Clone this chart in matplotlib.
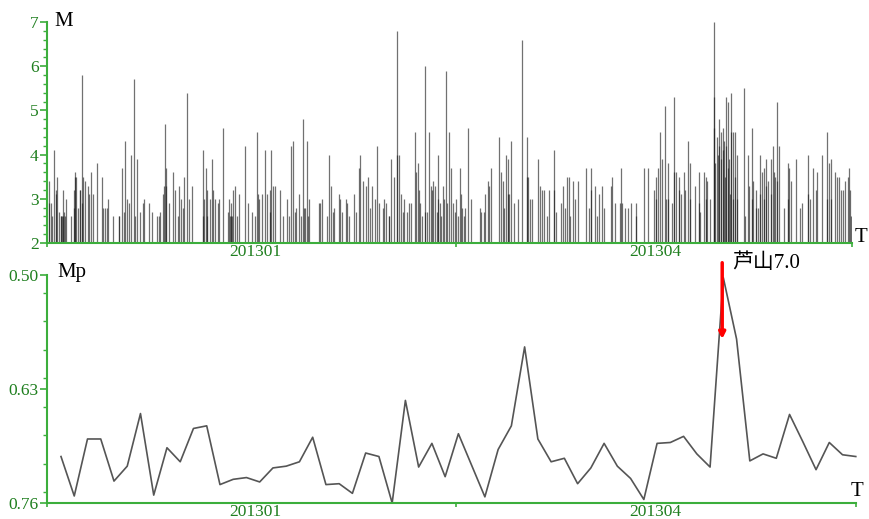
import numpy as np
import matplotlib
matplotlib.use('Agg')
import matplotlib.pyplot as plt
from matplotlib.ticker import MultipleLocator

# Earthquake catalogue (day since mid-Nov 2012, magnitude)
quake_day = [
    0.45, 0.5, 0.8, 1.2, 1.65, 1.95, 2.0, 2.25, 2.6, 3.1, 3.2, 3.4, 3.5, 3.7, 3.9, 4.0, 4.35, 5.3,
    6.0, 6.1, 6.3, 6.4, 6.6, 6.9, 7.4, 7.5, 7.8, 7.85, 8.2, 8.55, 9.2, 9.4, 9.9, 10.3, 11.3, 12.3,
    12.7, 13.05, 13.4, 13.8, 14.8, 16.2, 16.3, 16.9, 17.3, 17.6, 18.1, 18.4, 18.8, 19.6, 19.9, 20.2,
    20.9, 21.5, 21.8, 23.0, 23.6, 24.7, 25.1, 25.5, 26.0, 26.3, 26.6, 26.7, 26.75, 27.5, 28.3, 28.8,
    29.4, 29.7, 30.2, 30.5, 30.8, 31.4, 31.9, 32.6, 35.0, 35.0, 35.3, 35.8, 36.0, 36.1, 36.7, 37.2,
    37.4, 37.8, 38.4, 38.8, 39.7, 40.7, 41.0, 41.1, 41.3, 41.4, 41.6, 41.9, 42.3, 42.8, 43.3, 44.6,
    45.3, 46.1, 46.9, 47.3, 47.4, 47.7, 48.4, 49.1, 49.4, 50.2, 50.25, 50.5, 50.9, 51.4, 52.4,
    53.2, 54.1, 54.5, 54.9, 55.3, 55.7, 56.0, 56.6, 57.1, 57.7, 57.75, 58.1, 58.6, 58.65, 58.97,
    61.1, 61.4, 61.9, 63.0, 63.5, 63.8, 64.3, 64.6, 65.6, 65.9, 66.4, 67.2, 67.6, 68.0, 69.1, 69.5,
    70.1, 70.5, 71.2, 71.7, 72.2, 72.7, 73.2, 73.7, 74.2, 74.6, 75.5, 75.9, 76.3, 76.9, 77.0, 77.4,
    78.0, 78.8, 78.85, 79.1, 79.7, 80.0, 80.4, 80.95, 81.4, 81.9, 82.7, 83.0, 83.4, 83.8, 83.85,
    84.4, 85.0, 85.0, 85.4, 85.9, 86.3, 86.6, 86.9, 87.3, 87.7, 88.0, 88.05, 88.4, 88.7, 89.1, 89.4,
    89.8, 90.1, 90.5, 90.9, 91.3, 91.7, 92.0, 92.4, 93.0, 93.05, 93.4, 93.7, 94.1, 94.7, 95.4, 97.3,
    97.7, 98.2, 98.6, 99.1, 99.5, 99.9, 101.7, 102.1, 102.5, 102.9, 103.2, 103.6, 103.65, 103.9,
    104.3, 104.95, 106.0, 106.8, 107.9, 108.0, 108.3, 108.6, 109.2, 110.4, 110.8, 111.3, 111.9,
    112.4, 112.9, 114.1, 114.15, 114.6, 115.7, 116.1, 116.5, 117.0, 117.4,
    117.7, 118.3, 118.8, 119.4, 121.2, 122.0, 122.4, 122.45, 123.2, 123.7, 124.2, 124.9, 125.4,
    126.9, 127.2, 127.7, 128.9, 129.2, 129.25, 130.1, 130.6, 131.4, 132.5, 132.55, 134.4, 135.3,
    136.5, 137.0, 137.05, 137.4, 137.9, 138.4, 139.1, 139.15, 139.6, 139.8, 140.7, 141.1, 141.15,
    141.6, 142.2, 142.25, 142.7, 143.2, 143.6, 144.2, 144.7, 144.75, 145.8, 146.6, 146.65, 147.0,
    147.7, 148.2, 148.25, 148.5, 149.1,
    150.0, 150.05, 150.1, 150.3, 150.8, 150.85, 151.2, 151.25, 151.6, 151.65, 152.1, 152.15, 152.4,
    152.45, 152.7, 152.75, 153.1, 153.15, 153.5, 153.55, 153.9, 153.95, 154.3, 154.35, 154.7,
    154.75, 155.2, 155.25,
    156.9, 157.0, 157.8, 157.85, 158.5, 158.55, 158.9, 159.4, 159.45, 159.9, 160.4, 160.45, 160.9,
    161.3, 161.35, 161.7, 161.75, 162.1, 162.9, 162.95, 163.4, 163.45, 163.8, 164.2, 164.25, 164.6,
    165.7, 166.6, 166.65, 167.0, 167.4, 168.4, 169.4, 169.9, 171.2, 171.25, 171.6, 172.3, 173.0,
    173.3, 174.4, 175.4, 175.45, 175.9, 176.3, 176.35, 177.2, 177.7, 178.1, 178.6, 179.0, 179.6,
    180.1, 180.5, 180.55, 180.8,
]
quake_mag = [
    3.4, 2.9, 2.9, 2.6, 4.1, 3.2, 3.1, 3.5, 2.7, 2.6, 2.6, 2.6, 2.6, 3.2, 2.7, 2.6, 3.0, 2.6,
    2.8, 3.2, 3.6, 3.5, 3.5, 2.8, 3.2, 3.2, 5.8, 2.9, 3.5, 3.4, 3.3, 3.1, 3.6, 3.1, 3.8, 3.5,
    2.8, 2.8, 2.8, 3.0, 2.6, 2.6, 2.6, 3.7, 2.7, 4.3, 3.0, 2.9, 4.0, 5.7, 2.6, 3.9,
    2.7, 2.9, 3.0, 2.9, 2.7, 2.6, 2.6, 2.7, 3.1, 3.3, 4.7, 3.7, 3.3, 2.9, 3.6, 3.2,
    2.6, 3.3, 3.0, 2.8, 3.5, 5.4, 3.0, 3.3, 4.1, 2.6, 3.0, 3.7, 3.2, 2.6, 3.0, 3.9,
    3.2, 3.0, 2.9, 3.0, 4.6, 2.7, 3.0, 2.6, 2.9, 2.6, 2.6, 3.2, 3.3, 2.6, 3.1, 4.2,
    2.9, 2.7, 2.6, 4.5, 3.1, 3.0, 3.1, 4.1, 3.1, 3.2, 2.7, 4.1, 3.3, 3.3, 3.2,
    2.6, 3.0, 2.6, 4.2, 4.3, 2.7, 2.8, 3.1, 2.6, 4.8, 2.8, 2.8, 4.3, 2.6, 3.0,
    2.9, 2.9, 3.0, 2.6, 4.0, 3.3, 2.7, 2.8, 3.1, 3.0, 2.7, 3.0, 2.9, 2.6, 3.1, 2.7,
    3.7, 4.0, 3.4, 3.3, 3.5, 2.8, 3.3, 3.0, 4.2, 2.9, 2.8, 3.0, 2.9, 2.6, 2.6, 3.9,
    3.5, 6.8, 4.0, 4.0, 3.1, 2.7, 3.0, 2.7, 2.9, 2.9, 4.5, 3.6, 3.8, 3.2, 2.9,
    2.6, 6.0, 2.7, 2.7, 4.5, 3.3, 3.2, 3.4, 3.3, 2.7, 4.0, 3.0, 2.9, 2.6, 3.3, 3.0,
    5.9, 2.9, 4.5, 3.7, 2.9, 2.7, 3.0, 2.6, 3.7, 3.1, 2.8, 2.6, 2.8, 4.6, 3.0, 2.8,
    2.7, 2.7, 3.1, 3.4, 3.3, 3.7, 4.4, 3.6, 3.4, 2.8, 4.0, 3.9, 3.1, 3.1,
    4.3, 2.9, 3.0, 6.6, 4.4, 3.5, 3.5, 3.0, 3.0, 3.9, 3.3, 3.2, 3.2,
    2.6, 3.2, 4.1, 3.2, 2.7, 2.9, 3.3, 2.8, 3.5, 3.5,
    2.6, 3.4, 3.0, 3.4, 3.7, 2.8, 3.7, 3.2, 3.3, 2.6, 3.1, 3.3, 2.8,
    3.3, 3.5, 2.9, 2.9, 3.7, 2.9, 2.8, 2.8, 2.9, 2.9, 2.6, 3.7, 3.7,
    3.2, 3.5, 3.0, 3.7, 4.5, 3.9, 5.1, 3.0, 3.0, 3.8, 2.9, 5.3, 3.6,
    3.6, 3.5, 3.2, 3.1, 3.6, 3.2, 4.3, 3.8, 3.0, 3.3, 3.6, 2.9, 2.7,
    3.6, 3.5, 3.0, 3.4, 3.0,
    7.0, 5.3, 4.6, 3.8, 4.4, 4.0, 4.8, 4.2, 4.5, 3.9, 4.6, 4.1, 4.3,
    3.5, 5.3, 4.2, 5.2, 3.7, 3.9, 3.1, 5.4, 4.5, 4.5, 3.0, 4.5,
    3.5, 4.0, 3.0,
    5.5, 2.6, 4.0, 3.3, 4.6, 3.0, 3.4, 3.2, 2.8, 2.8, 4.0, 3.1, 3.6,
    3.7, 3.0, 3.9, 3.3, 3.4, 3.9, 3.1, 4.2, 3.6, 3.5, 5.2, 3.4, 4.2,
    2.8, 3.8, 3.0, 3.7, 3.4, 3.9, 2.8, 2.9, 4.0, 3.1, 3.0, 3.7, 3.2,
    3.6, 4.0, 4.5, 3.0, 3.8, 3.9, 3.0, 3.6, 3.5, 3.5, 3.2, 3.2, 3.4,
    3.5, 3.7, 3.2, 2.6,
]

# Mp computed every 3 days
mp_value = [
    0.707, 0.752, 0.687, 0.687, 0.735, 0.718, 0.658, 0.751, 0.697, 0.713,
    0.675, 0.672, 0.739, 0.733, 0.731, 0.736, 0.720, 0.718, 0.713, 0.685,
    0.739, 0.738, 0.749, 0.703, 0.707, 0.760, 0.643, 0.719, 0.692, 0.730,
    0.681, 0.717, 0.753, 0.699, 0.672, 0.582, 0.687, 0.713, 0.709, 0.738,
    0.720, 0.692, 0.718, 0.732, 0.756, 0.692, 0.691, 0.684, 0.704, 0.719,
    0.503, 0.573, 0.712, 0.704, 0.709, 0.659, 0.690, 0.722, 0.691, 0.705, 0.707,
]
mp_day = 3.15 + 2.98 * np.arange(len(mp_value))

month_labels = ['201301', '201304']
month_day = [46.8, 136.8]
quake_label = '芦山7.0'
quake_at = 151.9

# Colours / fonts
axis_green = '#3cae3c'
label_green = '#1f7f1f'
serif = ['Liberation Serif', 'Noto Sans CJK SC']
W, H = 869, 519

fig = plt.figure(figsize=(W / 100, H / 100), dpi=100)
ax1 = fig.add_axes([47 / W, 1 - 243 / H, (852 - 47) / W, 221 / H])
ax2 = fig.add_axes([47 / W, 1 - 503 / H, (856 - 47) / W, 228 / H])


def style_axes(ax, xmax):
    for side in ['top', 'right']:
        ax.spines[side].set_visible(False)
    for side in ['left', 'bottom']:
        ax.spines[side].set_color(axis_green)
        ax.spines[side].set_linewidth(1.5)
    ax.set_xlim(0, xmax)
    # small ticks at both ends and the middle, month names without ticks
    ax.set_xticks([0, 92, xmax])
    ax.set_xticklabels([])
    ax.set_xticks(month_day, minor=True)
    ax.set_xticklabels(month_labels, minor=True)
    ax.tick_params(axis='x', which='major', length=3, width=1.2, color=axis_green)
    ax.tick_params(axis='x', which='minor', length=0, pad=1, labelsize=12.5,
                   labelcolor=label_green)
    ax.tick_params(axis='y', which='major', length=5, width=1.2, color=axis_green,
                   labelsize=12.5, labelcolor=label_green, pad=1)
    ax.tick_params(axis='y', which='minor', length=3, width=1.0, color=axis_green)
    for lab in ax.get_xticklabels(minor=True) + ax.get_yticklabels():
        lab.set_family(serif)


# First chart: magnitudes as thin vertical lines (overlaps go darker)
ax1.vlines(quake_day, 2, quake_mag, colors='#1a1a1a', alpha=0.62, linewidth=0.9)
ax1.set_ylim(2, 7)
ax1.yaxis.set_major_locator(MultipleLocator(1))
ax1.yaxis.set_minor_locator(MultipleLocator(0.2))
style_axes(ax1, 181.1)

# Second chart: Mp, inverted axis
ax2.plot(mp_day, mp_value, color='#555555', linewidth=1.2, clip_on=False)
ax2.set_ylim(0.76, 0.50)
ax2.set_yticks([0.50, 0.63, 0.76])
ax2.set_yticklabels(['0.50', '0.63', '0.76'])
ax2.yaxis.set_minor_locator(MultipleLocator(0.0325))
style_axes(ax2, 182.0)

# Earthquake marker
ax2.annotate('', xy=(quake_at, 0.573), xytext=(quake_at, 0.486),
             arrowprops=dict(arrowstyle='-|>', color='red', lw=2.5,
                             mutation_scale=9, shrinkA=0, shrinkB=0),
             annotation_clip=False)
ax2.text(quake_at + 2.3, 0.486, quake_label, fontsize=15, family=serif,
         va='center', ha='left', clip_on=False)

# Axis names
fig.text(54 / W, 1 - 22 / H, 'M', fontsize=15, family=serif, va='center', ha='left')
fig.text(57 / W, 1 - 273 / H, 'Mp', fontsize=15, family=serif, va='center', ha='left')
fig.text(855 / W, 1 - 238 / H, 'T', fontsize=15, family=serif, va='center', ha='left')
fig.text(851 / W, 1 - 491 / H, 'T', fontsize=15, family=serif, va='center', ha='left')

fig.savefig('out.png', dpi=100)
